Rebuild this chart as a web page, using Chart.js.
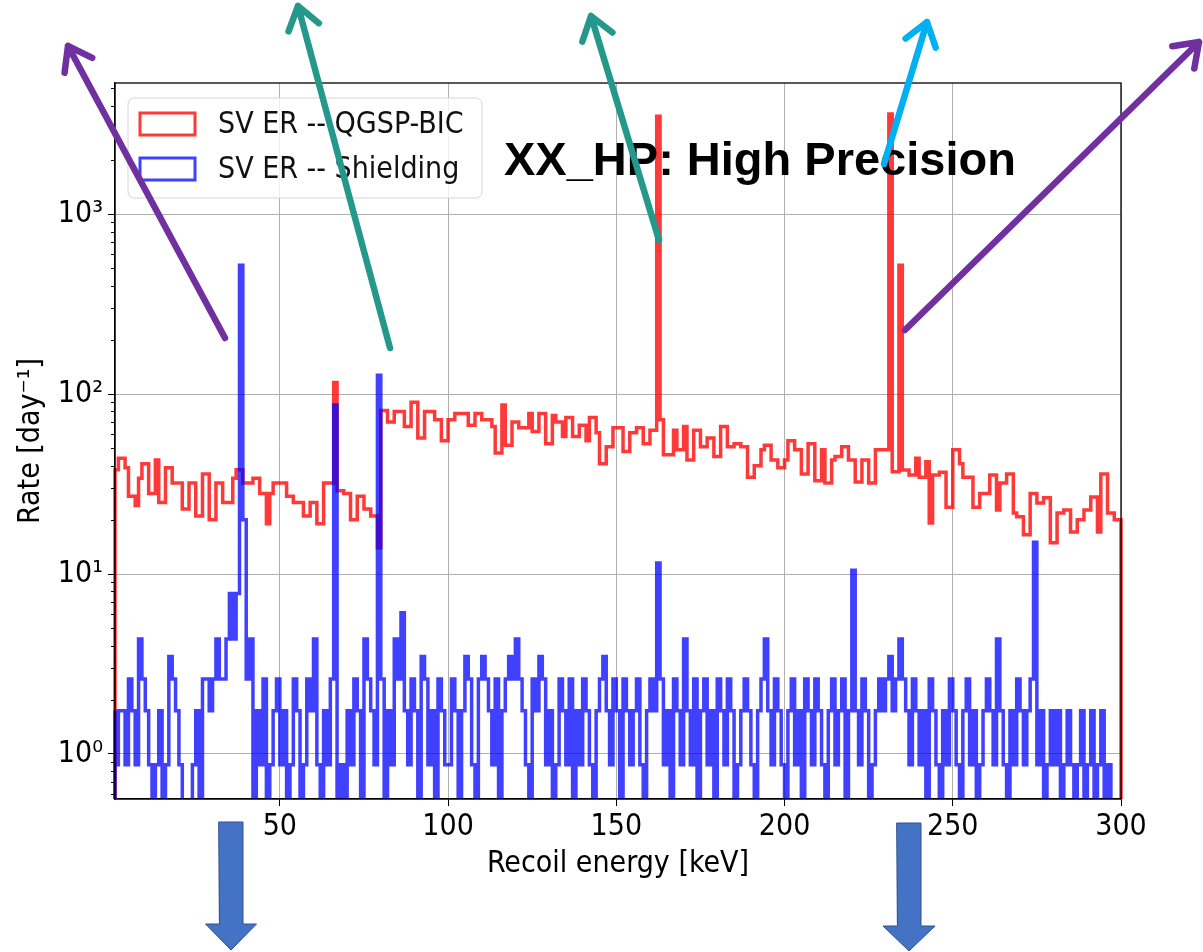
<!DOCTYPE html>
<html>
<head>
<meta charset="utf-8">
<script src="https://cdn.jsdelivr.net/npm/chart.js@4.4.1/dist/chart.umd.min.js"></script>
<style>
  html, body { margin: 0; padding: 0; background: #fff; }
  #chart { display: block; }
</style>
</head>
<body>
<canvas id="chart" width="1203" height="952"></canvas>
<script>
// histogram binning (1 keV bins from 1 to 300 keV)
const binStart = 1;
const binWidth = 1;

// SV ER -- QGSP-BIC, rate per bin [1/day], bins 1..299
const redRate = [
  26, 38, 44, 44, 39, 27, 27, 24, 34, 41,
  41, 28, 28, 43, 25, 25, 39, 39, 32, 32,
  32, 23, 23, 32, 32, 21, 21, 36, 36, 20,
  20, 32, 32, 25, 25, 25, 34, 38, 38, 32,
  32, 32, 34, 34, 28, 28, 19, 28, 32, 32,
  32, 32, 27, 27, 25, 25, 25, 21, 21, 25,
  25, 19, 19, 32, 32, 32, 116, 29, 29, 28,
  28, 20, 20, 27, 27, 23, 23, 21, 21, 14,
  81, 81, 70, 70, 80, 80, 80, 66, 66, 90,
  90, 57, 57, 80, 80, 80, 72, 72, 55, 55,
  72, 72, 78, 78, 78, 78, 67, 67, 78, 78,
  72, 72, 72, 66, 47, 47, 87, 52, 52, 70,
  70, 65, 65, 65, 78, 62, 62, 78, 78, 53,
  53, 76, 70, 70, 58, 74, 74, 58, 58, 67,
  67, 55, 74, 74, 61, 41, 41, 51, 51, 65,
  65, 65, 48, 48, 61, 61, 65, 65, 53, 53,
  63, 63, 3500, 72, 46, 46, 46, 63, 49, 49,
  66, 43, 43, 63, 63, 51, 51, 57, 57, 45,
  45, 66, 66, 51, 51, 53, 53, 51, 51, 34.5,
  34.5, 40, 40, 49, 52, 52, 43, 43, 39, 39,
  43, 55, 55, 49, 49, 36, 36, 53, 53, 33,
  33, 49, 32, 32, 43, 45, 45, 51, 51, 43,
  43, 32.5, 32.5, 43, 43, 32, 32, 49, 49, 49,
  49, 3600, 37, 37, 520, 37.8, 37.8, 35.5, 35.5, 44,
  34.5, 34.5, 42, 19.2, 35.5, 35.5, 36.8, 36.8, 23.5, 23.5,
  49, 49, 41, 34.5, 34.5, 34.5, 23.5, 23.5, 28, 28,
  28, 35.5, 35.5, 22.7, 32, 32, 36, 36, 21.8, 20.8,
  20.8, 16.5, 16.5, 28, 28, 24.8, 24.8, 26.5, 26.5, 14.9,
  14.9, 21.8, 21.8, 22.7, 22.7, 17.1, 17.1, 20, 20, 22.7,
  22.7, 26.8, 26.8, 17.1, 36, 36, 21.8, 21.8, 20
];

// SV ER -- Shielding, rate per bin [1/day], bins 1..299
const blueRate = [
  1.74, 0.87, 1.74, 1.74, 0.87, 2.61, 1.74, 0.87, 4.35, 2.61,
  1.74, 0.87, 0, 0.87, 1.74, 0, 0.87, 3.48, 2.61, 1.74,
  0.87, 0, 0, 0, 0.87, 1.74, 0, 2.61, 2.61, 1.74,
  2.61, 4.35, 2.61, 2.61, 4.35, 7.8, 4.35, 7.8, 520, 20,
  2.61, 4.35, 0, 1.74, 0.87, 2.61, 0, 0.87, 1.74, 2.61,
  0.87, 1.74, 0, 0.87, 2.61, 1.74, 0, 0.87, 2.61, 1.74,
  4.35, 0.87, 0, 1.74, 0.87, 2.61, 87, 0, 0.87, 0,
  1.74, 0.87, 2.61, 1.74, 0, 4.35, 2.61, 1.74, 0.87, 127,
  2.61, 0, 1.74, 0.87, 4.35, 2.61, 6.1, 1.74, 0.87, 2.61,
  1.74, 0, 3.48, 2.61, 0.87, 1.74, 0, 2.61, 1.74, 0.87,
  0.87, 2.61, 1.74, 0, 1.74, 3.48, 2.61, 0.87, 0, 2.61,
  3.48, 2.61, 1.74, 0.87, 2.61, 0, 1.74, 2.61, 3.48, 2.61,
  4.35, 2.61, 1.74, 0.87, 0, 2.61, 1.74, 3.48, 2.61, 0.87,
  1.74, 0, 0.87, 2.61, 1.74, 0.87, 2.61, 0, 1.74, 0.87,
  2.61, 1.74, 0.87, 0, 1.74, 2.61, 3.48, 1.74, 0.87, 2.61,
  1.74, 0, 2.61, 1.74, 0.87, 1.74, 2.61, 0.87, 0, 1.74,
  2.61, 1.74, 11.5, 2.61, 0.87, 1.74, 0, 2.61, 1.74, 0.87,
  4.35, 1.74, 0.87, 2.61, 0, 1.74, 2.61, 0.87, 1.74, 0,
  2.61, 1.74, 0.87, 2.61, 1.74, 0, 0.87, 1.74, 2.61, 1.74,
  0.87, 0, 1.74, 2.61, 4.35, 1.74, 0.87, 2.61, 1.74, 0.87,
  0, 1.74, 2.61, 0.87, 1.74, 0, 2.61, 1.74, 0.87, 2.61,
  1.74, 0.87, 0, 1.74, 2.61, 0.87, 1.74, 2.61, 0, 1.74,
  10.5, 1.74, 0.87, 2.61, 1.74, 0, 0.87, 1.74, 2.61, 1.74,
  2.61, 3.48, 1.74, 2.61, 4.35, 2.61, 1.74, 0.87, 2.61, 1.74,
  0.87, 1.74, 0, 2.61, 1.74, 0.87, 0, 1.74, 0.87, 2.61,
  1.74, 0.87, 0, 1.74, 2.61, 0.87, 1.74, 0, 0.87, 1.74,
  2.61, 1.74, 0.87, 4.35, 1.74, 0.87, 0, 1.74, 0.87, 2.61,
  1.74, 0.87, 1.74, 2.61, 15, 0.87, 1.74, 0, 0.87, 1.74,
  0.87, 1.74, 0, 0.87, 1.74, 0.87, 0, 0.87, 1.74, 0,
  0.87, 1.74, 0, 0.87, 1.74, 0, 0.87, 0, 0
];

const seriesNames = ['SV ER -- QGSP-BIC', 'SV ER -- Shielding'];
const xTicks = [50, 100, 150, 200, 250, 300];
const yTicks = [1, 10, 100, 1000];
const yTickLabels = ['10\u2070', '10\u00B9', '10\u00B2', '10\u00B3'];
const xTitle = 'Recoil energy [keV]';
const yTitle = 'Rate [day\u207B\u00B9]';
const noteText = 'XX_HP: High Precision';

const RED = 'rgba(255, 0, 0, 0.78)';
const BLUE = 'rgba(0, 0, 255, 0.75)';
const FLOOR = 0.05; // empty bins go below the axis

// pick a condensed face if it is installed (reference text is narrow)
const probe = document.createElement('canvas').getContext('2d');
probe.font = '30px monospace';
const wMono = probe.measureText('Recoil energy 100').width;
probe.font = '30px "DejaVu Sans Condensed", monospace';
const wCond = probe.measureText('Recoil energy 100').width;
const hasCond = Math.abs(wMono - wCond) > 1;
const FAMILY = hasCond ? '"DejaVu Sans Condensed", "DejaVu Sans"' : '"DejaVu Sans"';
const FS = hasCond ? 30 : 27;

// bin edges
const nBins = redRate.length;
const edges = [];
for (let i = 0; i <= nBins; i++) edges.push(binStart + i * binWidth);

function histPoints(values) {
  const pts = [{ x: edges[0], y: FLOOR }];
  values.forEach((v, i) => pts.push({ x: edges[i], y: v > 0 ? v : FLOOR }));
  const last = values[values.length - 1];
  pts.push({ x: edges[nBins], y: last > 0 ? last : FLOOR });
  pts.push({ x: edges[nBins], y: FLOOR });
  return pts;
}

function lineArrow(ctx, x1, y1, x2, y2, color) {
  const ang = Math.atan2(y2 - y1, x2 - x1);
  const head = 27, spread = 0.62;
  ctx.strokeStyle = color;
  ctx.lineWidth = 6.5;
  ctx.lineCap = 'round';
  ctx.lineJoin = 'round';
  ctx.beginPath();
  ctx.moveTo(x1, y1);
  ctx.lineTo(x2, y2);
  ctx.moveTo(x2 - head * Math.cos(ang - spread), y2 - head * Math.sin(ang - spread));
  ctx.lineTo(x2, y2);
  ctx.lineTo(x2 - head * Math.cos(ang + spread), y2 - head * Math.sin(ang + spread));
  ctx.stroke();
}

function blockArrow(ctx, cx, top, headTop, tip, shaftW, headW) {
  ctx.beginPath();
  ctx.moveTo(cx - shaftW / 2, top);
  ctx.lineTo(cx + shaftW / 2, top);
  ctx.lineTo(cx + shaftW / 2, headTop);
  ctx.lineTo(cx + headW / 2, headTop);
  ctx.lineTo(cx, tip);
  ctx.lineTo(cx - headW / 2, headTop);
  ctx.lineTo(cx - shaftW / 2, headTop);
  ctx.closePath();
  ctx.fillStyle = '#4472c4';
  ctx.fill();
  ctx.strokeStyle = '#2f528f';
  ctx.lineWidth = 1;
  ctx.stroke();
}

const overlay = {
  id: 'overlay',
  afterDraw(chart) {
    const { ctx, chartArea: a, scales: { y } } = chart;
    ctx.save();

    // frame on all four sides
    ctx.strokeStyle = '#000';
    ctx.lineWidth = 1.3;
    ctx.strokeRect(a.left, a.top, a.right - a.left, a.bottom - a.top);

    // minor log ticks on the y axis
    ctx.lineWidth = 1;
    ctx.beginPath();
    for (let p = -1; p <= 3; p++) {
      for (let k = 2; k <= 9; k++) {
        const v = k * Math.pow(10, p);
        if (v < y.min || v > y.max) continue;
        const py = Math.round(y.getPixelForValue(v)) + 0.5;
        ctx.moveTo(a.left - 4, py);
        ctx.lineTo(a.left, py);
      }
    }
    ctx.stroke();

    // legend box
    ctx.beginPath();
    ctx.roundRect(128, 98, 354, 100, 6);
    ctx.fillStyle = 'rgba(255,255,255,0.8)';
    ctx.fill();
    ctx.strokeStyle = '#d5d5d5';
    ctx.lineWidth = 1;
    ctx.stroke();
    const rows = [{ c: RED, y: 124 }, { c: BLUE, y: 169 }];
    rows.forEach((r, i) => {
      ctx.strokeStyle = r.c;
      ctx.lineWidth = 3;
      ctx.strokeRect(140, r.y - 11, 55, 22);
      ctx.fillStyle = '#111';
      ctx.font = FS + 'px ' + FAMILY;
      ctx.textBaseline = 'middle';
      ctx.textAlign = 'left';
      ctx.fillText(seriesNames[i], 218, r.y + 1);
    });

    // slide annotation
    ctx.fillStyle = '#000';
    ctx.font = 'bold 47px "Liberation Sans", Arial, sans-serif';
    ctx.textBaseline = 'alphabetic';
    ctx.fillText(noteText, 504, 175);

    // arrows
    lineArrow(ctx, 225, 338, 68, 46, '#7030a0');
    lineArrow(ctx, 390, 348, 298, 6, '#24988a');
    lineArrow(ctx, 659, 240, 591, 16, '#24988a');
    lineArrow(ctx, 884, 164, 927, 22, '#00b0f0');
    lineArrow(ctx, 905, 330, 1199, 42, '#7030a0');
    blockArrow(ctx, 231, 822, 924, 950, 24, 51);
    blockArrow(ctx, 909, 823, 926, 951, 24, 52);

    ctx.restore();
  }
};

const tickFont = { family: FAMILY, size: FS };

new Chart(document.getElementById('chart'), {
  type: 'line',
  data: {
    datasets: [
      {
        label: seriesNames[0],
        data: histPoints(redRate),
        borderColor: RED,
        borderWidth: 3.5,
        stepped: 'after',
        pointRadius: 0,
        fill: false,
        order: 2,
        clip: { left: 2, right: 2, top: 2, bottom: 0 }
      },
      {
        label: seriesNames[1],
        data: histPoints(blueRate),
        borderColor: BLUE,
        borderWidth: 3.5,
        stepped: 'after',
        pointRadius: 0,
        fill: false,
        order: 1,
        clip: { left: 2, right: 2, top: 2, bottom: 0 }
      }
    ]
  },
  options: {
    responsive: false,
    animation: false,
    devicePixelRatio: 1,
    events: [],
    layout: { padding: { left: 0, top: 83, right: 82, bottom: 70 } },
    plugins: { legend: { display: false }, tooltip: { enabled: false } },
    scales: {
      x: {
        type: 'linear',
        min: 1,
        max: 300,
        afterBuildTicks: s => { s.ticks = xTicks.map(v => ({ value: v })); },
        afterFit: s => { s.height = 83; },
        grid: { color: '#b0b0b0', lineWidth: 1, tickLength: 7, tickColor: '#000' },
        border: { display: true, color: '#000', width: 1.3 },
        ticks: { color: '#000', font: tickFont, padding: 3, maxRotation: 0, autoSkip: false,
                 callback: v => String(v) },
        title: { display: true, text: xTitle, color: '#000', font: tickFont, padding: 0 }
      },
      y: {
        type: 'logarithmic',
        min: 0.562,
        max: 5350,
        afterBuildTicks: s => { s.ticks = yTicks.map(v => ({ value: v, major: true })); },
        afterFit: s => { s.width = 115; },
        grid: { color: '#b0b0b0', lineWidth: 1, tickLength: 7, tickColor: '#000' },
        border: { display: true, color: '#000', width: 1.3 },
        ticks: { color: '#000', font: tickFont, padding: 5, autoSkip: false,
                 callback: v => yTickLabels[yTicks.indexOf(v)] },
        title: { display: true, text: yTitle, color: '#000', font: tickFont, padding: { top: 13, bottom: 0 } }
      }
    }
  },
  plugins: [overlay]
});
</script>
</body>
</html>
